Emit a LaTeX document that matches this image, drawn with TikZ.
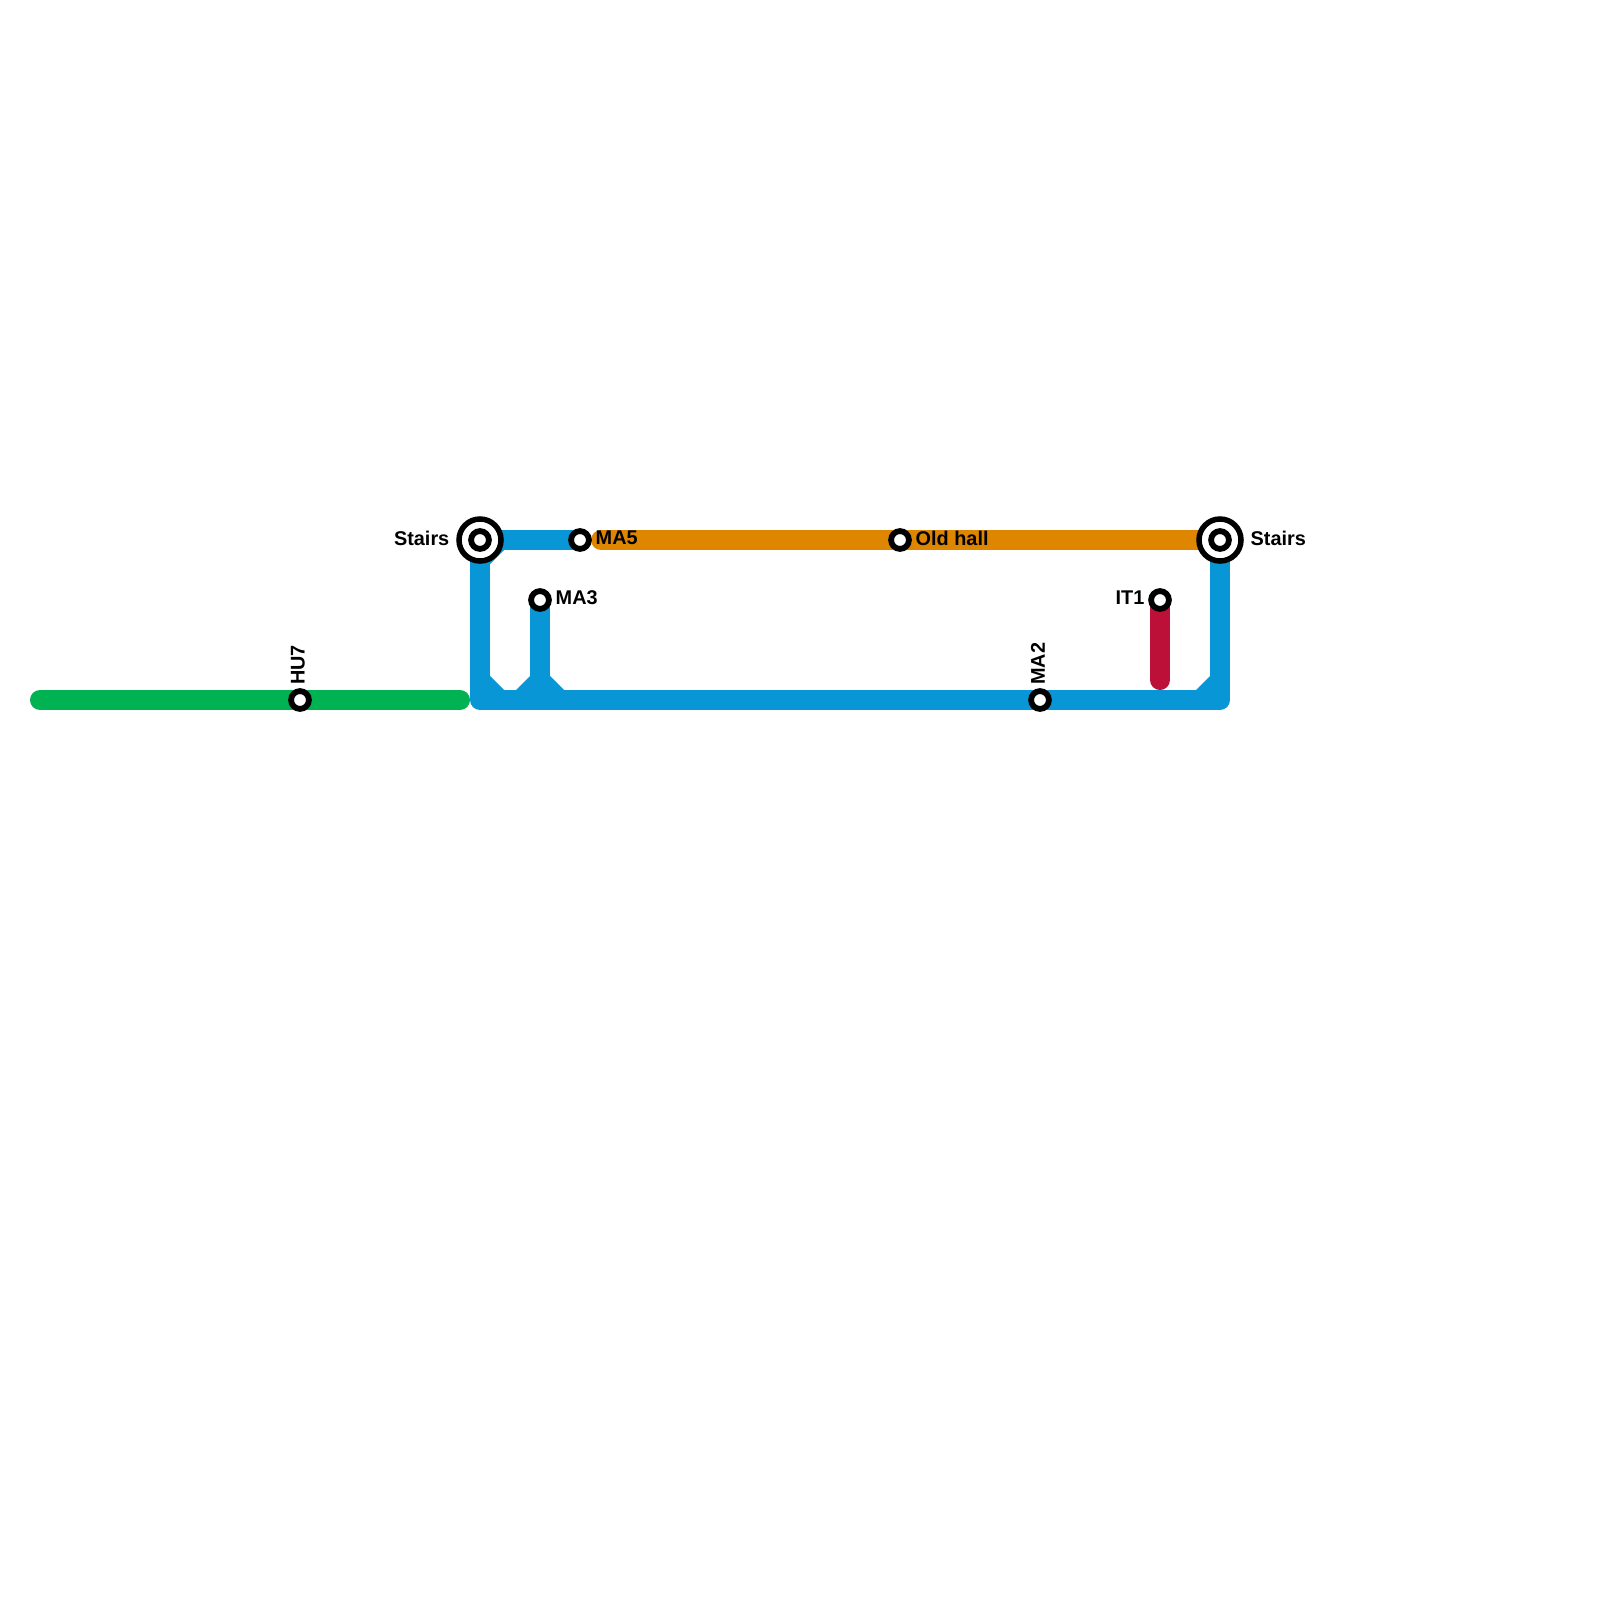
\documentclass[tikz,border=0pt]{standalone}
\usepackage{fontspec}
\setmainfont{Liberation Sans}
\definecolor{lineblue}{HTML}{0896D7}
\definecolor{lineorange}{HTML}{DF8600}
\definecolor{linegreen}{HTML}{00B251}
\definecolor{linered}{HTML}{BD1038}
\tikzset{
  track/.style={line width=0.2cm},
  station/.style={circle,draw=black,fill=white,line width=0.058cm,minimum size=0.178cm,inner sep=0pt},
  interchange/.style={circle,draw=black,fill=white,line width=0.055cm,minimum size=0.42cm,inner sep=0pt},
  stationlabel/.style={font=\bfseries\fontsize{5.65pt}{6pt}\selectfont,inner sep=0pt,text=black}
}
\begin{document}
\begin{tikzpicture}[x=0.01cm,y=-0.01cm]
  \useasboundingbox (0,0) rectangle (1600,1600);
  % free ends and corners of the lines
  \coordinate (greenw) at (40,700);
  \coordinate (greene) at (460,700);
  \coordinate (cornersw) at (480,700);
  \coordinate (cornerse) at (1220,700);
  \coordinate (forkma) at (540,700);
  \coordinate (orangew) at (601,540);
  \coordinate (redend) at (1160,680);
  % stations are placed first, the rings get redrawn on top
  \path (480,540) coordinate (stairsw) (1220,540) coordinate (stairse)
        (580,540) coordinate (ma5) (540,600) coordinate (ma3)
        (900,540) coordinate (oldhall) (1160,600) coordinate (it1)
        (300,700) coordinate (hu7) (1040,700) coordinate (ma2);
  % green line
  \draw[track,linegreen,line cap=round] (greenw) -- (greene);
  % blue loop
  \draw[track,lineblue,line join=round] (stairsw) -- (cornersw) -- (cornerse) -- (stairse);
  \draw[track,lineblue] (stairsw) -- (ma5);
  \draw[track,lineblue] (ma3) -- (forkma);
  % chamfers in the blue corners
  \fill[lineblue] (490,550) -- (504,550) -- (490,564) -- cycle;
  \fill[lineblue] (490,676) -- (504,690) -- (490,690) -- cycle;
  \fill[lineblue] (530,676) -- (516,690) -- (530,690) -- cycle;
  \fill[lineblue] (550,676) -- (564,690) -- (550,690) -- cycle;
  \fill[lineblue] (1210,676) -- (1196,690) -- (1210,690) -- cycle;
  % orange and red lines
  \draw[track,lineorange,line cap=round] (orangew) -- (stairse);
  \draw[track,linered,line cap=round] (it1) -- (redend);
  % stations
  \node[interchange] (stairswring) at (stairsw) {};
  \node[station] (stairswdot) at (stairsw) {};
  \node[interchange] (stairsering) at (stairse) {};
  \node[station] (stairsedot) at (stairse) {};
  \node[station] (ma5dot) at (ma5) {};
  \node[station] (ma3dot) at (ma3) {};
  \node[station] (oldhalldot) at (oldhall) {};
  \node[station] (it1dot) at (it1) {};
  \node[station] (hu7dot) at (hu7) {};
  \node[station] (ma2dot) at (ma2) {};
  % labels
  \node[stationlabel,anchor=east] (stairswlabel) at (450,538) {Stairs};
  \node[stationlabel,anchor=west] (stairselabel) at (1250,538) {Stairs};
  \node[stationlabel,anchor=west] (ma5label) at (595,538) {MA5};
  \node[stationlabel,anchor=west] (ma3label) at (555,598) {MA3};
  \node[stationlabel,anchor=west] (oldhalllabel) at (915,538) {Old hall};
  \node[stationlabel,anchor=east] (it1label) at (1145,598) {IT1};
  \node[stationlabel,anchor=west,rotate=90] (hu7label) at (298,685.5) {HU7};
  \node[stationlabel,anchor=west,rotate=90] (ma2label) at (1038,685.5) {MA2};
\end{tikzpicture}
\end{document}
